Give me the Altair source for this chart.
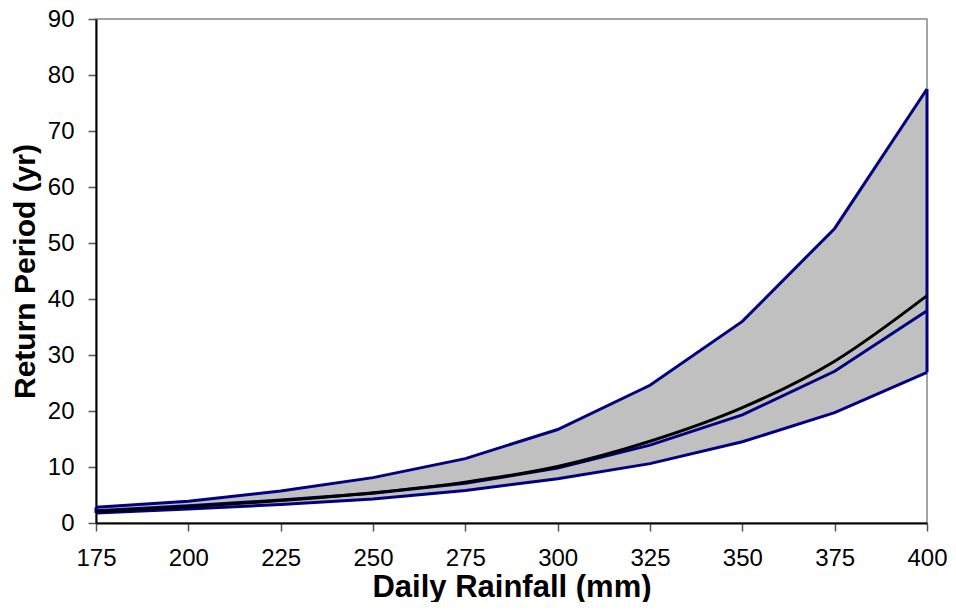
import altair as alt
import pandas as pd

# values
rainfall = [175, 200, 225, 250, 275, 300, 325, 350, 375, 400]
upper = [2.8, 3.9, 5.7, 8.1, 11.5, 16.7, 24.6, 36.0, 52.6, 77.5]
lower = [1.8, 2.5, 3.3, 4.3, 5.8, 7.9, 10.6, 14.5, 19.7, 26.9]
middle = [2.2, 3.1, 4.1, 5.3, 7.1, 9.8, 13.9, 19.3, 27.1, 37.9]
fitted = [2.0, 2.9, 4.0, 5.4, 7.3, 10.1, 14.6, 20.6, 28.9, 40.6]
y_ticks = [0, 10, 20, 30, 40, 50, 60, 70, 80, 90]

df = pd.DataFrame({
    "rain": rainfall,
    "upper": upper,
    "lower": lower,
    "middle": middle,
    "fitted": fitted,
})
edges = pd.DataFrame({
    "rain": [rainfall[0], rainfall[-1]],
    "lo": [lower[0], lower[-1]],
    "hi": [upper[0], upper[-1]],
})

NAVY = "#000080"
FONT = "Liberation Sans"
X_TITLE = "Daily Rainfall (mm)"
Y_TITLE = "Return Period (yr)"

x_scale = alt.Scale(domain=[175, 400], nice=False)
y_scale = alt.Scale(domain=[0, 90], nice=False)

x_axis = alt.Axis(
    values=rainfall, grid=False, domainColor="black", domainWidth=2,
    tickColor="#555555", tickSize=8, tickWidth=1.5,
    labelFont=FONT, labelFontSize=24, labelColor="black", labelPadding=15,
    labelFlush=False, labelOverlap=False,
    titleFont=FONT, titleFontSize=31, titleFontWeight="bold", titleColor="black",
    titleBaseline="alphabetic", titleY=73,
)
y_axis = alt.Axis(
    values=y_ticks, grid=False, domainColor="black", domainWidth=2,
    tickColor="#555555", tickSize=8, tickWidth=1.5,
    labelFont=FONT, labelFontSize=24, labelColor="black", labelPadding=14,
    labelFlush=False, labelOverlap=False,
    titleFont=FONT, titleFontSize=30, titleFontWeight="bold", titleColor="black",
    titleAngle=270, titleBaseline="alphabetic", titleX=-62,
)


def xenc():
    return alt.X("rain:Q", scale=x_scale, axis=x_axis, title=X_TITLE)


def yenc(field):
    return alt.Y(f"{field}:Q", scale=y_scale, axis=y_axis, title=Y_TITLE)


band = alt.Chart(df).mark_area(color="#C0C0C0", opacity=1).encode(
    x=xenc(), y=yenc("upper"), y2="lower:Q",
)


def series_line(field, color, width, interp="linear"):
    return alt.Chart(df).mark_line(color=color, strokeWidth=width, interpolate=interp).encode(
        x=xenc(), y=yenc(field),
    )


edge_rules = alt.Chart(edges).mark_rule(color=NAVY, strokeWidth=3).encode(
    x=xenc(), y=yenc("lo"), y2="hi:Q",
)

chart = alt.layer(
    band,
    edge_rules,
    series_line("upper", NAVY, 3),
    series_line("lower", NAVY, 3),
    series_line("middle", NAVY, 3),
    series_line("fitted", "black", 3, "monotone"),
).properties(
    width=831,
    height=504,
    autosize=alt.AutoSizeParams(type="none"),
    padding={"left": 88, "top": 11, "right": 21, "bottom": 79},
).configure_view(
    stroke="#888888", strokeWidth=1.5
)

chart.save("out.html", embed_options={"renderer": "svg", "actions": False})
